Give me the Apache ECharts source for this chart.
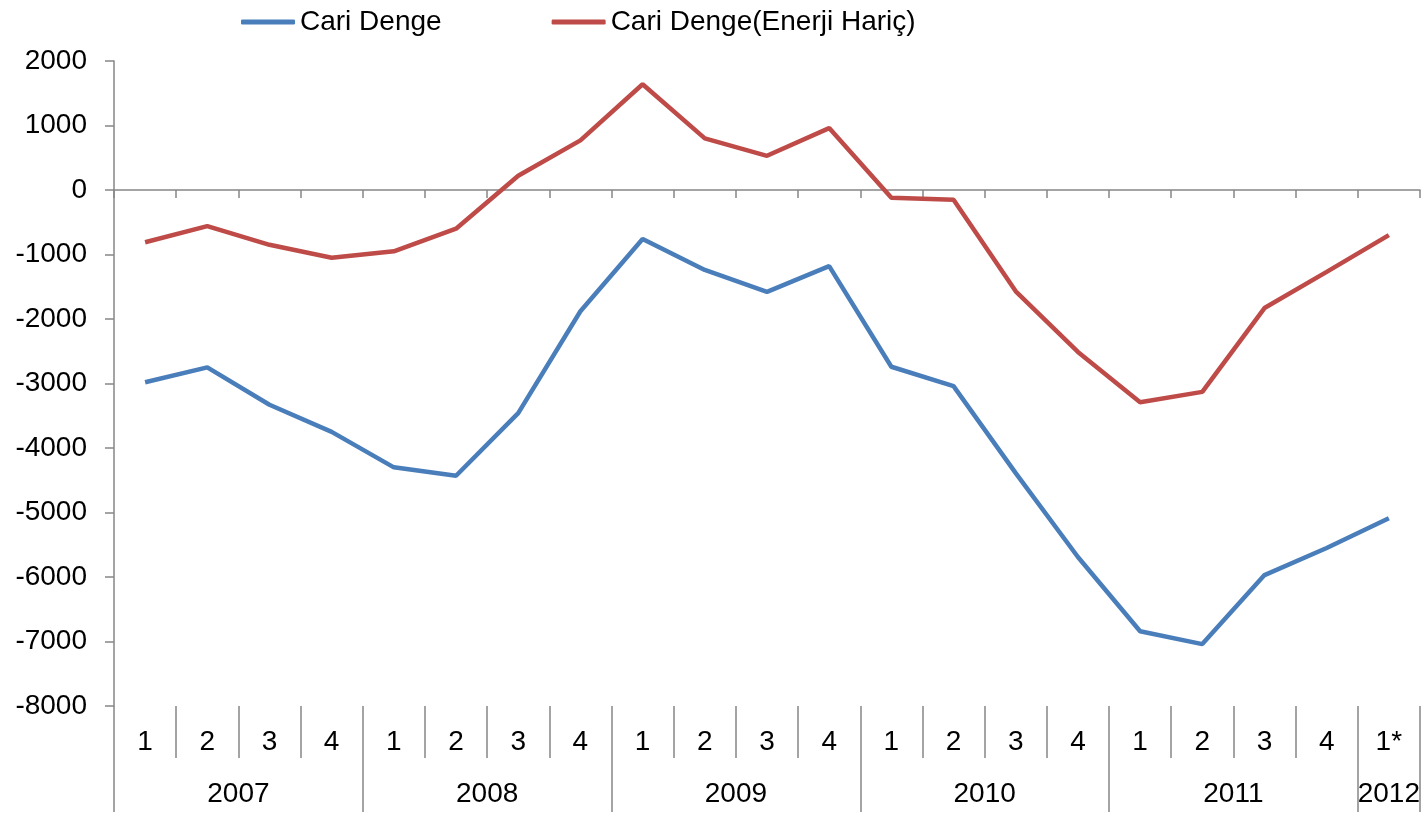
<!DOCTYPE html>
<html>
<head>
<meta charset="utf-8">
<script src="https://cdn.jsdelivr.net/npm/echarts@6/dist/echarts.min.js"></script>
<style>
  html, body { margin: 0; padding: 0; background: #fff; }
  #chart { width: 1423px; height: 813px; }
</style>
</head>
<body>
<div id="chart"></div>
<script>
// quarter labels along the axis, years below them
const quarters = ['1', '2', '3', '4', '1', '2', '3', '4', '1', '2', '3', '4',
                  '1', '2', '3', '4', '1', '2', '3', '4', '1*'];
const years = ['2007', '2008', '2009', '2010', '2011', '2012'];
const quartersPerYear = [4, 4, 4, 4, 4, 1];

// current account balance
const cariDenge = [-2980, -2750, -3330, -3750, -4300, -4430, -3460, -1880,
                   -760, -1240, -1580, -1180, -2740, -3040, -4390, -5690,
                   -6840, -7040, -5970, -5550, -5090];
const cariDengeEnerjiHaric = [-810, -560, -850, -1050, -950, -600, 220, 770,
                              1640, 800, 530, 960, -120, -150, -1570, -2510,
                              -3290, -3130, -1830, -1270, -700];

const font = "'Liberation Sans', Arial, sans-serif";
const axisGray = '#868686';
const labelSize = 28;

// year boundaries and centres in category units
const yearBounds = [0];
const yearCenters = [];
quartersPerYear.forEach(n => {
  const start = yearBounds[yearBounds.length - 1];
  yearCenters.push(start + n / 2);
  yearBounds.push(start + n);
});

const chart = echarts.init(document.getElementById('chart'));

chart.setOption({
  animation: false,
  textStyle: { fontFamily: font },
  legend: {
    data: ['Cari Denge', 'Cari Denge(Enerji Hariç)'],
    left: 236,
    top: 3,
    icon: 'roundRect',
    itemWidth: 54,
    itemHeight: 5,
    itemGap: 110,
    textStyle: { fontSize: 28, color: '#000', fontFamily: font }
  },
  grid: { left: 114, right: 2, top: 61, bottom: 107 },
  xAxis: [
    {
      // axis through zero, only ticks
      type: 'category',
      data: quarters,
      axisLine: { onZero: true, lineStyle: { color: axisGray, width: 1.5 } },
      axisTick: { show: true, length: 8, interval: 0, lineStyle: { color: axisGray, width: 1.5 } },
      axisLabel: { show: false }
    },
    {
      // quarter labels and separators at the bottom
      type: 'category',
      data: quarters,
      position: 'bottom',
      axisLine: { show: false, onZero: false },
      axisTick: { show: true, length: 52, interval: 0, lineStyle: { color: axisGray, width: 1.5 } },
      axisLabel: { interval: 0, margin: 22, fontSize: labelSize, color: '#000', fontFamily: font }
    },
    {
      // year labels and separators
      type: 'value',
      min: 0,
      max: quarters.length,
      position: 'bottom',
      axisLine: { show: false, onZero: false },
      splitLine: { show: false },
      axisTick: {
        show: true, length: 106, customValues: yearBounds,
        lineStyle: { color: axisGray, width: 1.5 }
      },
      axisLabel: {
        customValues: yearCenters,
        margin: 74,
        fontSize: labelSize,
        color: '#000',
        fontFamily: font,
        formatter: v => years[yearCenters.indexOf(v)]
      }
    }
  ],
  yAxis: {
    type: 'value',
    min: -8000,
    max: 2000,
    interval: 1000,
    axisLine: { show: true, lineStyle: { color: axisGray, width: 1.5 } },
    axisTick: { show: true, length: 9, lineStyle: { color: axisGray, width: 1.5 } },
    splitLine: { show: false },
    axisLabel: {
      margin: 27, fontSize: labelSize, color: '#000', fontFamily: font,
      formatter: v => String(v)
    }
  },
  series: [
    {
      name: 'Cari Denge',
      type: 'line',
      xAxisIndex: 0,
      data: cariDenge,
      showSymbol: false,
      symbol: 'none',
      color: '#4A7EBB',
      lineStyle: { width: 4.5 }
    },
    {
      name: 'Cari Denge(Enerji Hariç)',
      type: 'line',
      xAxisIndex: 0,
      data: cariDengeEnerjiHaric,
      showSymbol: false,
      symbol: 'none',
      color: '#BE4B48',
      lineStyle: { width: 4.5 }
    }
  ]
});
</script>
</body>
</html>
